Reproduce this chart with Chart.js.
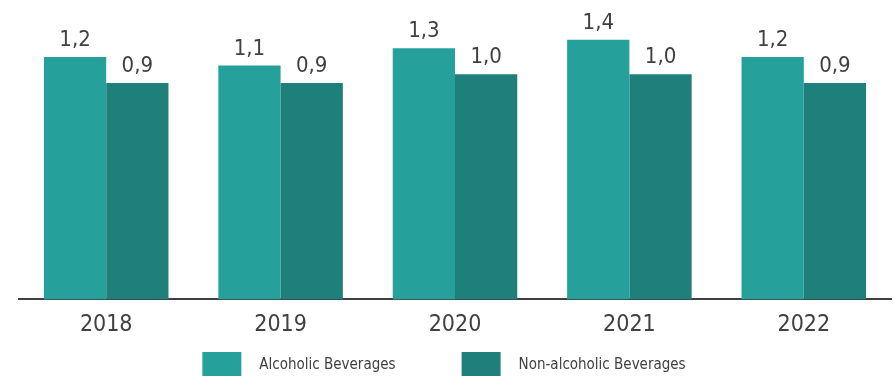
<!DOCTYPE html>
<html>
<head>
<meta charset="utf-8">
<script src="https://cdn.jsdelivr.net/npm/chart.js@4"></script>
<style>
  html, body { margin: 0; padding: 0; background: #fff; }
  #wrap { width: 894px; height: 376px; }
</style>
</head>
<body>
<div id="wrap"><canvas id="myChart" width="894" height="376"></canvas></div>
<script>
const years = ['2018', '2019', '2020', '2021', '2022'];
const alcoholic = [1.2, 1.1, 1.3, 1.4, 1.2];
const nonAlcoholic = [0.9, 0.9, 1.0, 1.0, 0.9];
const seriesNames = ['Alcoholic Beverages', 'Non-alcoholic Beverages'];
const seriesColors = ['#25A09A', '#1F7F7B'];

const ctx = document.getElementById('myChart').getContext('2d');
const textColor = '#404040';
const fontFamily = "'DejaVu Sans Condensed', 'DejaVu Sans', sans-serif";
const yMin = -1.6;

// valores encima de cada barra, con coma decimal
const etiquetas = {
    id: 'etiquetas',
    afterDatasetsDraw(chart){
        const c = chart.ctx;
        c.save();
        c.font = '22px ' + fontFamily;
        c.fillStyle = textColor;
        c.textAlign = 'center';
        c.textBaseline = 'alphabetic';
        chart.data.datasets.forEach((ds, i) => {
            chart.getDatasetMeta(i).data.forEach((bar, j) => {
                const txt = ds.data[j].toFixed(1).replace('.', ',');
                c.fillText(txt, bar.x, bar.y - 11);
            });
        });
        c.restore();
    }
};

// leyenda propia: cajas anchas y mas separacion que la de Chart.js
const leyenda = {
    id: 'leyenda',
    afterDraw(chart){
        const c = chart.ctx;
        const boxW = 39, boxH = 24, gapTexto = 18, gapItems = 66;
        c.save();
        c.font = '15px ' + fontFamily;
        const anchos = chart.data.datasets.map(ds => c.measureText(ds.label).width);
        const total = anchos.reduce((a, w) => a + boxW + gapTexto + w, 0) + gapItems * (anchos.length - 1);
        let x = chart.width / 2 - total / 2 - 3;
        const top = 352;
        chart.data.datasets.forEach((ds, i) => {
            c.fillStyle = ds.backgroundColor;
            c.fillRect(x, top, boxW, boxH);
            c.fillStyle = textColor;
            c.textBaseline = 'middle';
            c.textAlign = 'left';
            c.fillText(ds.label, x + boxW + gapTexto, top + 13);
            x += boxW + gapTexto + anchos[i] + gapItems;
        });
        c.restore();
    }
};

new Chart(ctx, {
    type: 'bar',
    data: {
        labels: years,
        datasets: [{
            label: seriesNames[0],
            data: alcoholic,
            backgroundColor: seriesColors[0],
            base: yMin,
            categoryPercentage: 0.714,
            barPercentage: 1.0
        }, {
            label: seriesNames[1],
            data: nonAlcoholic,
            backgroundColor: seriesColors[1],
            base: yMin,
            categoryPercentage: 0.714,
            barPercentage: 1.0
        }]
    },
    options: {
        responsive: false,
        animation: false,
        layout: { padding: { left: 19, right: 3, top: 5, bottom: 33 } },
        scales: {
            x: {
                grid: { display: false },
                border: { display: true, color: '#404040', width: 2 },
                ticks: { color: textColor, font: { size: 23, family: fontFamily }, padding: 4 }
            },
            y: {
                display: false,
                min: yMin,
                max: 1.8
            }
        },
        plugins: {
            legend: { display: false },
            tooltip: { enabled: false }
        }
    },
    plugins: [etiquetas, leyenda]
});
</script>
</body>
</html>
